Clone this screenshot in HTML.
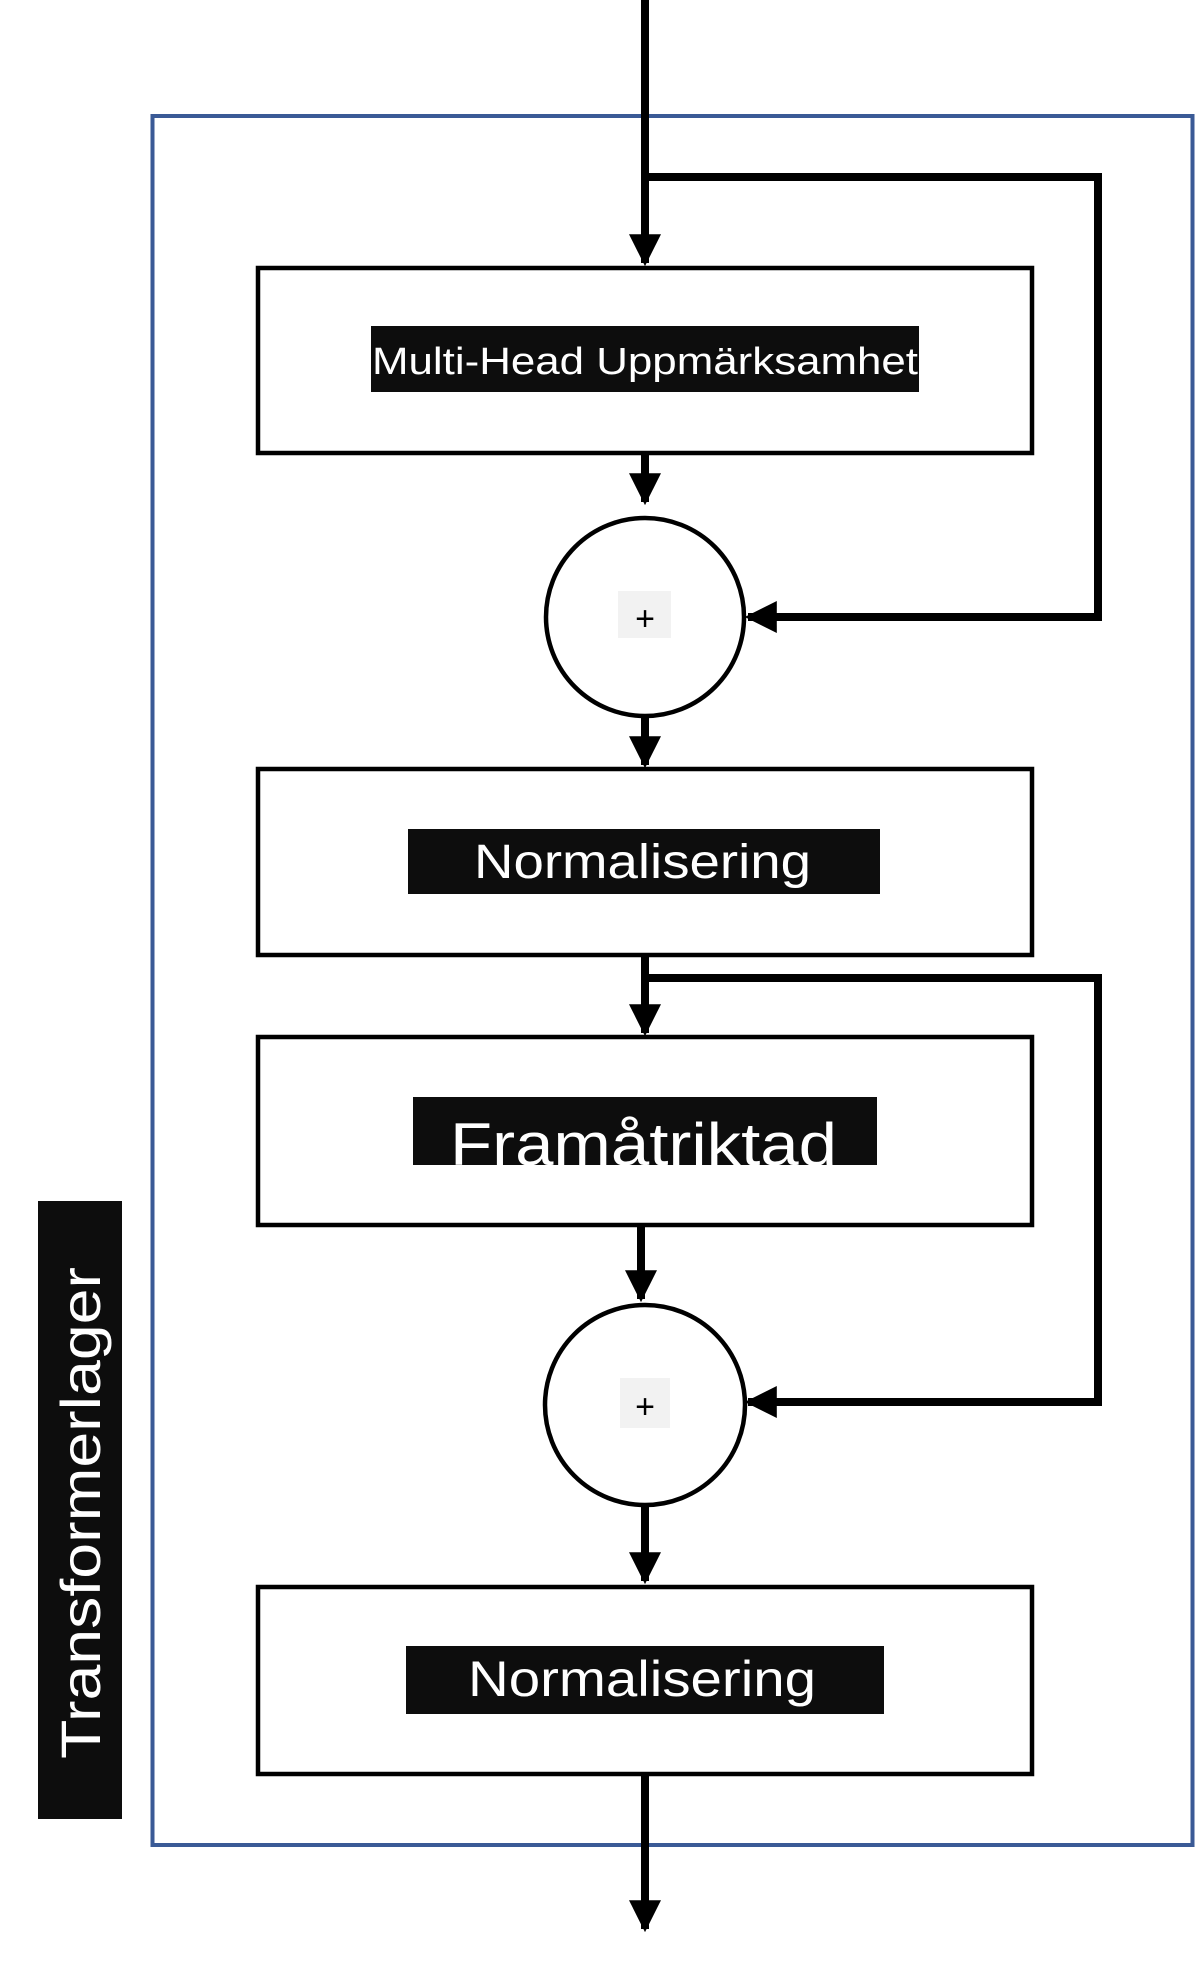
<!DOCTYPE html>
<html><head><meta charset="utf-8"><style>html,body{margin:0;padding:0;background:#fff}svg{display:block}</style></head>
<body>
<svg width="1196" height="1963" viewBox="0 0 1196 1963" xmlns="http://www.w3.org/2000/svg" font-family="'Liberation Sans', sans-serif">
<defs>
<marker id="a" markerWidth="4" markerHeight="4" refX="3.6" refY="2" orient="auto" markerUnits="strokeWidth"><path d="M0,0 L4,2 L0,4 z" fill="#000"/></marker>
</defs>
<rect x="152.5" y="116" width="1040" height="1729" fill="none" stroke="#3a5a96" stroke-width="4"/>
<g stroke="#000" stroke-width="8" fill="none">
<line x1="645" y1="0" x2="645" y2="263" marker-end="url(#a)"/>
<polyline points="645,177 1098,177 1098,617 748,617" marker-end="url(#a)"/>
<line x1="645" y1="453" x2="645" y2="502" marker-end="url(#a)"/>
<line x1="645" y1="716" x2="645" y2="765" marker-end="url(#a)"/>
<line x1="645" y1="955" x2="645" y2="1033" marker-end="url(#a)"/>
<polyline points="645,978 1098,978 1098,1402 748,1402" marker-end="url(#a)"/>
<line x1="641" y1="1219" x2="641" y2="1299" marker-end="url(#a)"/>
<line x1="645" y1="1507" x2="645" y2="1581" marker-end="url(#a)"/>
<line x1="645" y1="1774" x2="645" y2="1929" marker-end="url(#a)"/>
</g>
<g fill="#fff" stroke="#000" stroke-width="4.5">
<rect x="258" y="268" width="774" height="185"/>
<rect x="258" y="769" width="774" height="186"/>
<rect x="258" y="1037" width="774" height="188"/>
<rect x="258" y="1587" width="774" height="187"/>
<circle cx="645" cy="617" r="99"/>
<circle cx="645" cy="1405" r="100"/>
</g>
<rect x="618" y="591" width="53" height="47" fill="#f2f2f2"/>
<rect x="620" y="1378" width="50" height="50" fill="#f2f2f2"/>
<text x="645" y="630" font-size="34" text-anchor="middle" fill="#000">+</text>
<text x="645" y="1418" font-size="34" text-anchor="middle" fill="#000">+</text>
<rect x="371" y="326" width="548" height="66" fill="#0d0d0d"/>
<text x="372" y="374" font-size="38" fill="#fff" textLength="546" lengthAdjust="spacingAndGlyphs">Multi-Head Uppmärksamhet</text>
<rect x="408" y="829" width="472" height="65" fill="#0d0d0d"/>
<text x="474" y="878" font-size="48" fill="#fff" textLength="337" lengthAdjust="spacingAndGlyphs">Normalisering</text>
<svg x="413" y="1097" width="464" height="68" overflow="hidden">
<rect x="0" y="0" width="464" height="68" fill="#0d0d0d"/>
<text x="37" y="68" font-size="60" fill="#fff" textLength="387" lengthAdjust="spacingAndGlyphs">Framåtriktad</text>
</svg>
<rect x="406" y="1646" width="478" height="68" fill="#0d0d0d"/>
<text x="468" y="1696" font-size="50" fill="#fff" textLength="348" lengthAdjust="spacingAndGlyphs">Normalisering</text>
<rect x="38" y="1201" width="84" height="618" fill="#0d0d0d"/>
<text transform="translate(100,1513) rotate(-90)" x="0" y="0" font-size="56" fill="#fff" text-anchor="middle" textLength="492" lengthAdjust="spacingAndGlyphs">Transformerlager</text>
</svg>
</body></html>
